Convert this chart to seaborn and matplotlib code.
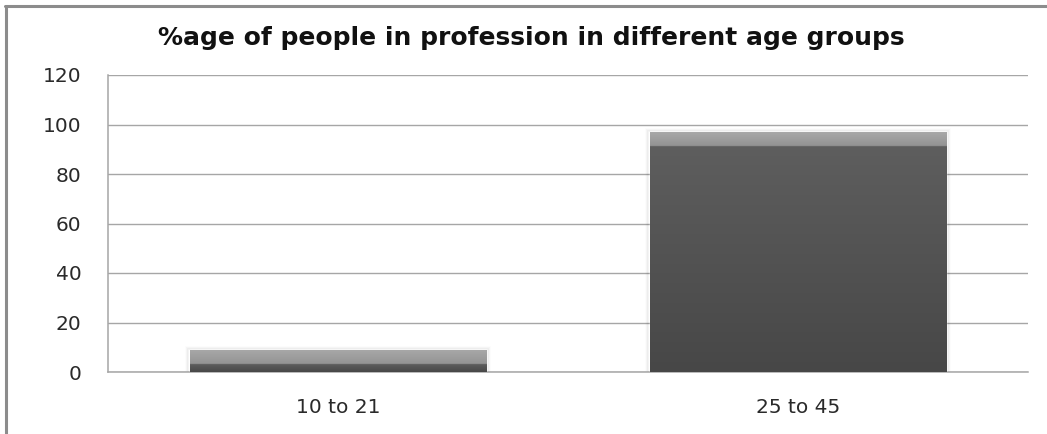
import numpy as np
import pandas as pd
import matplotlib
matplotlib.use("Agg")
import matplotlib.pyplot as plt
from matplotlib.colors import to_rgb
from matplotlib.lines import Line2D
import seaborn as sns

# ---- data ----
categories = ["10 to 21", "25 to 45"]
values = [9, 97]
title_text = "%age of people in profession in different age groups"
y_ticks = [0, 20, 40, 60, 80, 100, 120]

df = pd.DataFrame({"group": categories, "pct": values})

sns.set_theme(style="white")
plt.rcParams["font.family"] = ["DejaVu Sans"]

W, H = 1047, 434
fig = plt.figure(figsize=(W / 100, H / 100), dpi=100)
ax = fig.add_axes([108 / W, 62 / H, (1028 - 108) / W, (372 - 75) / H])

sns.barplot(data=df, x="group", y="pct", ax=ax, color="#555555",
            width=0.645, saturation=1, errorbar=None, zorder=3)

ax.set_ylim(0, 120)
ax.set_xlim(-0.5, 1.5)
ax.set_yticks(y_ticks)
ax.set_yticklabels([str(t) for t in y_ticks])
ax.set_xlabel("")
ax.set_ylabel("")
ax.tick_params(axis="y", length=0, pad=19, labelsize=14.5, labelcolor="#2a2a2a")
ax.tick_params(axis="x", length=0, pad=19, labelsize=14.5, labelcolor="#2a2a2a")

ax.yaxis.grid(True, color="#a6a6a6", linewidth=1.0, zorder=0)
ax.set_axisbelow(True)
for s in ["top", "right"]:
    ax.spines[s].set_visible(False)
for s in ["left", "bottom"]:
    ax.spines[s].set_color("#a6a6a6")
    ax.spines[s].set_linewidth(1.1)

# gradient fill on top of each bar, clipped to the bar patch
px_per_unit = (372 - 75) / 120.0
band = 14.5 / px_per_unit


def lerp(c1, c2, t):
    a, b = np.array(to_rgb(c1)), np.array(to_rgb(c2))
    return a + (b - a) * t


for p in ax.patches:
    x0 = p.get_x()
    w = p.get_width()
    h = p.get_height()
    n = 400
    ys = np.linspace(h, 0, n)  # top -> bottom
    img = np.zeros((n, 1, 3))
    for i, yv in enumerate(ys):
        d = h - yv
        if d <= band:
            img[i, 0] = lerp("#a9a9a9", "#939393", d / band)
        else:
            t = yv / max(h - band, 1e-6)
            img[i, 0] = lerp("#474747", "#5e5e5e", t)
    im = ax.imshow(img, extent=[x0, x0 + w, 0, h], aspect="auto",
                   zorder=4, interpolation="bilinear")
    im.set_clip_path(p)
    # soft shadow
    for k, a in enumerate([0.05, 0.03, 0.015]):
        off = (k + 1) * 1.2 / (920 / 2.0)
        sh = plt.Rectangle((x0 - off, 0), w + 2 * off, h + (k + 1) * 1.0 / px_per_unit,
                           facecolor="none", edgecolor=(0, 0, 0, a),
                           linewidth=1.2, zorder=2.5)
        ax.add_patch(sh)

ax.set_ylim(0, 120)
ax.set_xlim(-0.5, 1.5)

fig.text(531 / W, 1 - 45 / H, title_text, ha="center", va="baseline",
         fontsize=18, fontweight="bold", color="#111111")

# outer chart frame (top and left)
fig.add_artist(Line2D([5 / W, 1.0], [1 - 6 / H, 1 - 6 / H], transform=fig.transFigure,
                      color="#8c8c8c", linewidth=2.2))
fig.add_artist(Line2D([5.5 / W, 5.5 / W], [0, 1 - 6 / H], transform=fig.transFigure,
                      color="#8c8c8c", linewidth=2.2))

fig.savefig("out.png", dpi=100, facecolor="white")
